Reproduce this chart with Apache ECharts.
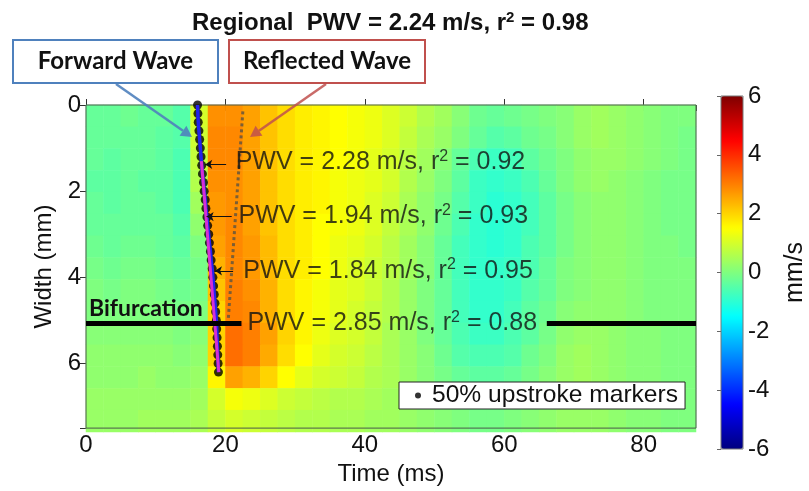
<!DOCTYPE html>
<html><head><meta charset="utf-8">
<script src="https://cdn.jsdelivr.net/npm/echarts@6/dist/echarts.min.js"></script>
<style>html,body{margin:0;padding:0;background:#fff}#c{width:809px;height:491px}</style>
</head><body><div id="c"></div>
<script>
// ---------- data ----------
const timeBins = [1.25,3.75,6.25,8.75,11.25,13.75,16.25,18.75,21.25,23.75,26.25,28.75,31.25,33.75,36.25,38.75,41.25,43.75,46.25,48.75,51.25,53.75,56.25,58.75,61.25,63.75,66.25,68.75,71.25,73.75,76.25,78.75,81.25,83.75,86.25];
const widthBins = [0.25,0.75,1.25,1.75,2.25,2.75,3.25,3.75,4.25,4.75,5.25,5.75,6.25,6.75,7.25];
// wall velocity (mm/s), one row per width bin, one value per time bin
const velocity = [
 [-0.3,-0.3,-0.2,-0.3,-0.3,-0.5,1.0,2.8,2.8,2.6,2.2,1.9,1.7,1.6,1.5,1.4,1.3,1.1,0.9,0.6,0.4,0.1,-0.2,-0.3,-0.2,-0.1,0.0,0.1,0.3,0.4,0.3,0.2,0.1,0.0,0.0],
 [-0.3,-0.3,-0.3,-0.3,-0.4,-0.5,0.9,2.9,2.9,2.6,2.2,1.9,1.7,1.6,1.5,1.4,1.3,1.1,0.8,0.5,0.3,0.0,-0.3,-0.5,-0.4,-0.2,-0.1,0.1,0.3,0.4,0.3,0.2,0.1,0.0,-0.1],
 [-0.3,-0.4,-0.3,-0.3,-0.4,-0.6,0.8,2.9,2.9,2.6,2.2,1.9,1.7,1.6,1.5,1.4,1.2,1.0,0.7,0.4,0.1,-0.3,-0.6,-0.8,-0.7,-0.4,-0.2,0.0,0.2,0.3,0.3,0.2,0.1,0.0,-0.1],
 [-0.4,-0.4,-0.3,-0.4,-0.4,-0.6,0.6,2.8,2.8,2.6,2.2,1.9,1.7,1.6,1.4,1.3,1.2,1.0,0.6,0.3,0.0,-0.4,-0.8,-0.9,-0.8,-0.6,-0.3,0.0,0.2,0.3,0.2,0.1,0.0,-0.1,-0.1],
 [-0.3,-0.4,-0.3,-0.3,-0.4,-0.6,0.4,2.7,2.8,2.6,2.2,1.9,1.7,1.6,1.4,1.3,1.1,0.9,0.5,0.2,-0.1,-0.5,-0.8,-1.0,-0.9,-0.7,-0.4,-0.1,0.1,0.2,0.2,0.1,0.0,-0.1,-0.1],
 [-0.3,-0.3,-0.3,-0.3,-0.3,-0.5,0.2,2.7,2.9,2.6,2.2,1.9,1.7,1.5,1.4,1.3,1.1,0.8,0.5,0.2,-0.2,-0.6,-0.9,-1.0,-0.9,-0.7,-0.4,-0.1,0.1,0.2,0.2,0.1,0.0,-0.1,-0.1],
 [-0.2,-0.3,-0.2,-0.2,-0.3,-0.4,0.0,2.6,2.9,2.7,2.3,1.9,1.7,1.5,1.3,1.2,1.0,0.7,0.4,0.1,-0.3,-0.7,-0.9,-1.0,-0.9,-0.6,-0.4,-0.1,0.1,0.2,0.2,0.1,0.0,0.0,-0.1],
 [-0.1,-0.2,-0.1,-0.1,-0.2,-0.3,-0.1,2.4,2.9,2.7,2.3,1.9,1.7,1.5,1.3,1.1,0.9,0.7,0.4,0.1,-0.3,-0.7,-0.9,-0.9,-0.8,-0.6,-0.3,0.0,0.1,0.2,0.2,0.1,0.0,0.0,0.0],
 [0.0,-0.1,0.0,0.0,-0.1,-0.2,-0.1,2.2,3.0,2.8,2.4,1.9,1.6,1.4,1.2,1.1,0.9,0.6,0.3,0.0,-0.3,-0.7,-0.9,-0.9,-0.8,-0.5,-0.3,0.0,0.1,0.2,0.2,0.1,0.0,0.0,0.0],
 [0.0,0.0,0.0,0.0,0.0,-0.1,0.0,2.0,3.0,2.9,2.4,1.9,1.6,1.4,1.2,1.0,0.8,0.6,0.3,0.0,-0.3,-0.7,-0.9,-0.9,-0.7,-0.4,-0.2,0.1,0.2,0.2,0.2,0.1,0.0,0.0,0.0],
 [0.1,0.1,0.1,0.1,0.1,0.0,0.1,2.0,3.2,3.0,2.6,2.0,1.6,1.3,1.1,1.0,0.8,0.5,0.3,0.0,-0.3,-0.6,-0.8,-0.8,-0.6,-0.4,-0.1,0.2,0.3,0.3,0.2,0.1,0.1,0.0,0.0],
 [0.2,0.2,0.2,0.2,0.2,0.1,0.2,2.0,3.2,3.0,2.5,1.9,1.5,1.2,1.0,0.9,0.7,0.5,0.3,0.1,-0.2,-0.5,-0.6,-0.6,-0.5,-0.2,0.0,0.3,0.4,0.3,0.2,0.1,0.1,0.0,0.0],
 [0.2,0.2,0.2,0.3,0.2,0.2,0.3,1.6,2.6,2.4,2.0,1.5,1.2,1.0,0.9,0.8,0.6,0.5,0.3,0.1,-0.1,-0.3,-0.4,-0.4,-0.3,-0.1,0.1,0.3,0.4,0.3,0.2,0.1,0.1,0.0,0.0],
 [0.3,0.3,0.3,0.3,0.3,0.3,0.4,1.0,1.4,1.3,1.1,0.9,0.8,0.7,0.6,0.6,0.5,0.4,0.3,0.1,0.0,-0.1,-0.2,-0.2,-0.1,0.0,0.1,0.3,0.3,0.3,0.2,0.1,0.1,0.0,0.0],
 [0.3,0.3,0.3,0.4,0.4,0.4,0.5,0.8,1.0,0.9,0.8,0.7,0.6,0.6,0.5,0.5,0.4,0.4,0.3,0.2,0.1,0.0,-0.1,-0.1,0.0,0.1,0.2,0.3,0.3,0.3,0.2,0.1,0.1,0.0,0.0]
];
// 50% upstroke markers (forward wave foot)
const markerWidth = [0,0.2,0.4,0.6,0.8,1.0,1.2,1.4,1.6,1.8,2.0,2.2,2.4,2.6,2.8,3.0,3.2,3.4,3.6,3.8,4.0,4.2,4.4,4.6,4.8,5.0,5.2,5.4,5.6,5.8,6.0,6.2];
const markerTime  = [16.0,16.05,16.1,16.2,16.3,16.4,16.5,16.6,16.7,16.85,16.95,17.1,17.2,17.35,17.45,17.6,17.7,17.85,17.95,18.1,18.2,18.3,18.4,18.5,18.6,18.7,18.75,18.8,18.85,18.9,18.95,19.0];
// linear fit of the forward wave
const fitTime  = [16.55, 19.05];
const fitWidth = [1.3, 6.2];
// reflected wave (dotted)
const reflTime  = [22.5, 20.4];
const reflWidth = [0.15, 5.0];
// segment annotations
const pwvValues = [2.28, 1.94, 1.84, 2.85];
const r2Values  = [0.92, 0.93, 0.95, 0.88];
const labelTime  = [21.4, 21.8, 22.5, 23.1];
const labelWidth = [1.33, 2.59, 3.85, 5.07];
const arrowFrom = [20.1, 20.9, 21.1];
const arrowTo   = [17.1, 17.3, 18.5];
const arrowWidth = [1.38, 2.59, 3.85];
// bifurcation
const bifWidth = 5.07;
const bifSegments = [[0, 22.3], [66.1, 87.5]];
const xTicks = [0, 20, 40, 60, 80];
const yTicks = [0, 2, 4, 6];
const cTicks = [-6, -4, -2, 0, 2, 4, 6];

// ---------- chart ----------
const FONT = '"Liberation Sans", Arial, sans-serif';
const BOXFONT = 'Lato, "Open Sans", sans-serif';
const jet = ['#00007f','#0000ff','#007fff','#00ffff','#7fff7f','#ffff00','#ff7f00','#ff0000','#7f0000'];
const heatData = [];
velocity.forEach((row, r) => row.forEach((v, c) => heatData.push([c, r, v])));
const markers = markerTime.map((t, i) => [t, markerWidth[i]]);

const G = {left: 86, top: 105, width: 610, height: 327};
const chart = echarts.init(document.getElementById('c'), null, {renderer: 'canvas'});

const tickInside = {show: true, inside: true, length: 6, lineStyle: {color: '#333', width: 1}};
const labelStyle = {fontSize: 24, color: '#111', fontFamily: FONT};

function arrow(x1, y1, x2, y2, color, w) {
  const dx = x2 - x1, dy = y2 - y1, L = Math.hypot(dx, dy);
  const ux = dx / L, uy = dy / L, nx = -uy, ny = ux, hl = 11, hw = 6;
  const bx = x2 - ux * hl, by = y2 - uy * hl;
  return [
    {type: 'line', shape: {x1, y1, x2: bx, y2: by}, style: {stroke: color, lineWidth: w}, z: 20},
    {type: 'polygon', shape: {points: [[x2, y2], [bx + nx * hw, by + ny * hw], [bx - nx * hw, by - ny * hw]]}, style: {fill: color}, z: 20}
  ];
}

const option = {
  animation: false,
  backgroundColor: '#fff',
  title: {
    text: '{b|Regional  PWV = 2.24 m/s, r}{s|2}{b| = 0.98}',
    left: 187, top: 3,
    textStyle: {rich: {
      b: {fontSize: 24, fontWeight: 'bold', fontFamily: FONT, color: '#111', lineHeight: 30},
      s: {fontSize: 15, fontWeight: 'bold', fontFamily: FONT, color: '#111', padding: [0, 0, 11, 0]}
    }}
  },
  legend: {
    data: ['50% upstroke markers'], selectedMode: false,
    left: 399, top: 382, padding: [1, 7, 1, 16],
    backgroundColor: '#fff', borderColor: '#222', borderWidth: 1,
    icon: 'circle', itemWidth: 6, itemHeight: 6,
    textStyle: {fontSize: 24.6, color: '#111', fontFamily: FONT, padding: [0, 0, 0, 6]}
  },
  grid: [
    Object.assign({}, G),
    Object.assign({show: true, borderColor: '#4a5a4a', borderWidth: 1, backgroundColor: 'transparent', z: 3}, G),
    {left: 721, top: 96, width: 22, height: 353, show: true, borderColor: '#777', borderWidth: 1, backgroundColor: 'transparent', z: 10}
  ],
  xAxis: [
    {type: 'category', gridIndex: 0, data: timeBins, show: false},
    {type: 'value', gridIndex: 1, min: 0, max: 87.5, interval: 20, position: 'bottom',
     axisLine: {show: false}, axisTick: tickInside, splitLine: {show: false},
     axisLabel: Object.assign({margin: 5, showMaxLabel: false, formatter: v => xTicks.includes(v) ? String(v) : ''}, labelStyle),
     name: 'Time (ms)', nameLocation: 'middle', nameGap: 24, nameTextStyle: labelStyle},
    {type: 'value', gridIndex: 1, min: 0, max: 87.5, interval: 20, position: 'top',
     axisLine: {show: false}, axisTick: tickInside, axisLabel: {show: false}, splitLine: {show: false}},
    {type: 'value', gridIndex: 2, min: 0, max: 1, show: false}
  ],
  yAxis: [
    {type: 'category', gridIndex: 0, data: widthBins, inverse: true, show: false},
    {type: 'value', gridIndex: 1, min: 0, max: 7.5, interval: 2, inverse: true, position: 'left',
     axisLine: {show: false}, axisTick: tickInside, splitLine: {show: false},
     axisLabel: Object.assign({margin: 5, showMaxLabel: false, formatter: v => yTicks.includes(v) ? String(v) : ''}, labelStyle),
     name: 'Width (mm)', nameLocation: 'middle', nameGap: 23, nameTextStyle: labelStyle},
    {type: 'value', gridIndex: 1, min: 0, max: 7.5, interval: 2, inverse: true, position: 'right',
     axisLine: {show: false}, axisTick: tickInside, axisLabel: {show: false}, splitLine: {show: false}},
    {type: 'value', gridIndex: 2, min: -6, max: 6, interval: 2, position: 'right',
     axisLine: {show: false}, axisTick: {show: true, inside: true, length: 4, lineStyle: {color: '#666'}},
     splitLine: {show: false},
     axisLabel: Object.assign({margin: 5, formatter: v => cTicks.includes(v) ? String(v) : ''}, labelStyle),
     name: 'mm/s', nameLocation: 'middle', nameGap: 40, nameTextStyle: Object.assign({}, labelStyle, {fontSize: 25})}
  ],
  visualMap: {
    type: 'continuous', seriesIndex: 0, min: -6, max: 6, calculable: false, hoverLink: false,
    orient: 'vertical', left: 721, top: 96, itemWidth: 22, itemHeight: 353, padding: 0,
    inRange: {color: jet}
  },
  series: [
    {type: 'heatmap', xAxisIndex: 0, yAxisIndex: 0, data: heatData, z: 1, emphasis: {disabled: true}, progressive: 0},
    {name: '50% upstroke markers', type: 'scatter', xAxisIndex: 1, yAxisIndex: 1, data: markers,
     symbol: 'circle', symbolSize: 9, itemStyle: {color: '#000'}, z: 4},
    {type: 'line', xAxisIndex: 1, yAxisIndex: 1, data: markers, showSymbol: false,
     lineStyle: {color: '#2222ee', width: 3.5}, z: 5},
    {type: 'line', xAxisIndex: 1, yAxisIndex: 1, data: fitTime.map((t, i) => [t, fitWidth[i]]), showSymbol: false,
     lineStyle: {color: '#d62ed6', width: 3}, z: 6},
    {type: 'line', xAxisIndex: 1, yAxisIndex: 1, data: reflTime.map((t, i) => [t, reflWidth[i]]), showSymbol: false,
     lineStyle: {color: '#6e5a3a', width: 3, type: [3, 3], opacity: 0.9}, z: 6},
    {type: 'lines', coordinateSystem: 'cartesian2d', xAxisIndex: 1, yAxisIndex: 1, clip: false,
     data: arrowFrom.map((f, i) => ({coords: [[f, arrowWidth[i]], [arrowTo[i], arrowWidth[i]]]})),
     symbol: ['none', 'arrow'], symbolSize: 7, lineStyle: {color: '#111', width: 1, opacity: 1}, z: 7},
    {type: 'lines', coordinateSystem: 'cartesian2d', xAxisIndex: 1, yAxisIndex: 1, clip: false,
     data: bifSegments.map((s, i) => ({coords: [[s[0], bifWidth], [s[1], bifWidth]],
       label: {show: i === 0, position: 'insideStartTop', formatter: 'Bifurcation', distance: 3,
         fontSize: 23, fontWeight: 'bold', fontFamily: BOXFONT, color: '#111'}})),
     lineStyle: {color: '#000', width: 5, opacity: 1}, z: 7},
    {type: 'scatter', xAxisIndex: 1, yAxisIndex: 1, data: labelTime.map((t, i) => [t, labelWidth[i]]),
     symbolSize: 1, itemStyle: {color: 'transparent'}, z: 8, silent: true,
     label: {show: true, position: 'right', distance: 0,
       formatter: p => '{a|PWV = ' + pwvValues[p.dataIndex].toFixed(2) + ' m/s, r}{s|2}{a| = ' + r2Values[p.dataIndex].toFixed(2) + '}',
       rich: {
         a: {fontSize: 25, fontFamily: FONT, color: '#111', lineHeight: 29},
         s: {fontSize: 16, fontFamily: FONT, color: '#111', padding: [0, 0, 12, 0]}
       }}}
  ],
  graphic: [
    {type: 'rect', shape: {x: 13, y: 40, width: 205, height: 43}, style: {fill: '#fff', stroke: '#4f81bd', lineWidth: 2}, z: 20},
    {type: 'text', x: 115.5, y: 61.5, style: {text: 'Forward Wave', fill: '#111', font: 'bold 24px ' + BOXFONT, textAlign: 'center', textVerticalAlign: 'middle'}, z: 21},
    {type: 'rect', shape: {x: 229, y: 40, width: 196, height: 43}, style: {fill: '#fff', stroke: '#c0504d', lineWidth: 2}, z: 20},
    {type: 'text', x: 327, y: 61.5, style: {text: 'Reflected Wave', fill: '#111', font: 'bold 24px ' + BOXFONT, textAlign: 'center', textVerticalAlign: 'middle'}, z: 21}
  ].concat(arrow(116, 84, 192, 137, 'rgba(79,129,189,0.9)', 2.5))
   .concat(arrow(326, 84, 250, 137, 'rgba(192,80,77,0.85)', 2.5))
};
chart.setOption(option);
</script></body></html>
